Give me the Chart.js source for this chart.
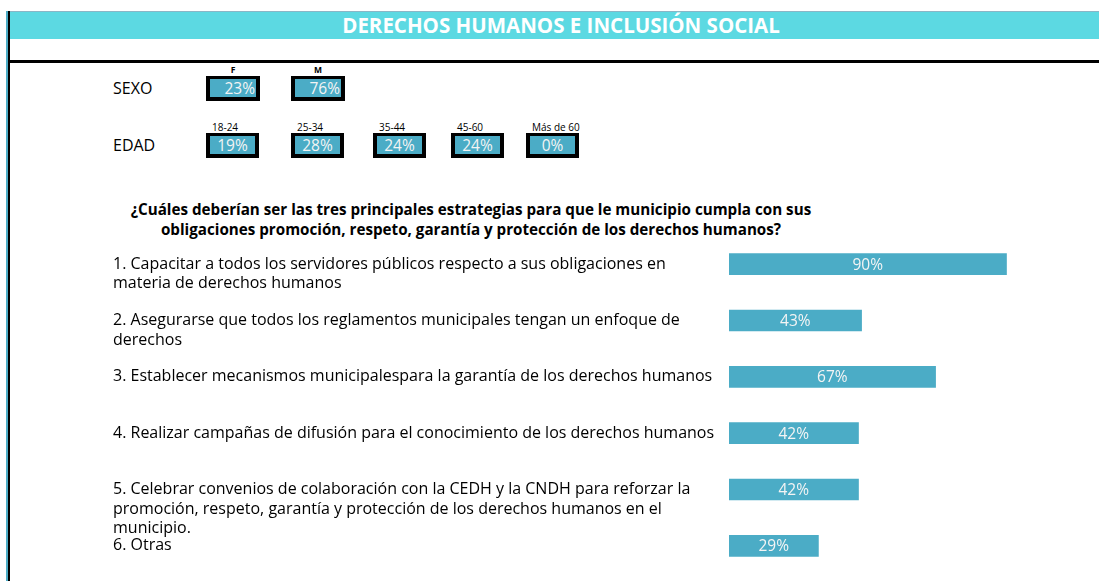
<!DOCTYPE html>
<html>
<head>
<meta charset="utf-8">
<script src="https://cdn.jsdelivr.net/npm/chart.js@4.4.1/dist/chart.umd.min.js"></script>
<style>
  html, body { margin: 0; padding: 0; background: #fff; }
  body { width: 1099px; height: 581px; position: relative; overflow: hidden;
         font-family: "Open Sans", sans-serif; color: #000; }
  .abs { position: absolute; }
  #bl1 { left: 6px; top: 11px; width: 2px; height: 570px; background: #4bacc6; }
  #bl2 { left: 8px; top: 11px; width: 2px; height: 570px; background: #000; }
  #hdrline { left: 10px; top: 11px; width: 1089px; height: 1px; background: #8ab6c6; }
  #hdr { left: 10px; top: 12px; width: 1089px; height: 27px; background: #5cd9e2; }
  #title { left: 0px; top: 12px; width: 1122px; height: 27px; line-height: 27px; text-align: center;
           color: #fff; font-weight: bold; font-size: 20.5px; }
  #rule { left: 10px; top: 60px; width: 1089px; height: 3px; background: #000; }
  .rowlbl { font-size: 16px; line-height: 20px; }
  .box { position: absolute; box-sizing: border-box; border: 4px solid #000; border-top-width: 3px;
         border-bottom-width: 4px; background: #4bacc6; }
  .box span { position: absolute; top: 0; bottom: 0; left: 0; right: 0; color: #f4f4f4;
              font-size: 15.5px; line-height: 18px; }
  .boxhead { position: absolute; font-size: 10px; line-height: 12px; }
  #question { left: 0px; top: 199px; width: 942px; text-align: center; font-weight: bold;
              font-size: 15.2px; line-height: 20px; }
  #chartwrap { left: 113px; top: 236px; width: 986px; height: 338px; }
</style>
</head>
<body>
<div class="abs" id="bl1"></div>
<div class="abs" id="bl2"></div>
<div class="abs" id="hdr"></div>
<div class="abs" id="hdrline"></div>
<div class="abs" id="title">DERECHOS HUMANOS E INCLUSIÓN SOCIAL</div>
<div class="abs" id="rule"></div>
<div class="abs rowlbl" style="left:113px;top:78px;">SEXO</div>
<div class="abs rowlbl" style="left:113px;top:135px;">EDAD</div>
<div id="boxes"></div>
<div class="abs" id="question">¿Cuáles deberían ser las tres principales estrategias para que le municipio cumpla con sus<br>obligaciones promoción, respeto, garantía y protección de los derechos humanos?</div>
<div class="abs" id="chartwrap"><canvas id="c" width="986" height="338"></canvas></div>
<script>
// ---- data ----
const sexLabels = ['F', 'M'];
const sexValues = [23, 76];
const ageLabels = ['18-24', '25-34', '35-44', '45-60', 'Más de 60'];
const ageValues = [19, 28, 24, 24, 0];
const strategyLabels = [
  ['1. Capacitar a todos los servidores públicos respecto a sus obligaciones en', 'materia de derechos humanos'],
  ['2. Asegurarse que todos los reglamentos municipales tengan un enfoque de', 'derechos'],
  ['3. Establecer mecanismos municipalespara la garantía de los derechos humanos'],
  ['4. Realizar campañas de difusión para el conocimiento de los derechos humanos'],
  ['5. Celebrar convenios de colaboración con la CEDH y la CNDH para reforzar la', 'promoción, respeto, garantía y protección de los derechos humanos en el', 'municipio.'],
  ['6. Otras']
];
const strategyValues = [90, 43, 67, 42, 42, 29];

// ---- layout (not data) ----
const sexBoxLeft = [206, 291];
const ageBoxLeft = [206, 291, 373, 451, 526];
const FONT = '"Open Sans", sans-serif';

const boxes = document.getElementById('boxes');
function addBox(left, top, w, h, head, val, headStyle, align) {
  const hd = document.createElement('div');
  hd.className = 'boxhead';
  hd.textContent = head;
  Object.assign(hd.style, headStyle);
  boxes.appendChild(hd);
  const b = document.createElement('div');
  b.className = 'box';
  Object.assign(b.style, { left: left + 'px', top: top + 'px', width: w + 'px', height: h + 'px' });
  const s = document.createElement('span');
  s.textContent = val + '%';
  s.style.textAlign = align;
  if (align === 'right') s.style.paddingRight = '1px';
  b.appendChild(s);
  boxes.appendChild(b);
}
sexLabels.forEach((l, i) => {
  addBox(sexBoxLeft[i], 76, 54, 25, l, sexValues[i],
    { left: sexBoxLeft[i] + 'px', width: '54px', textAlign: 'center', top: '64px',
      fontWeight: 'bold', fontSize: '8.5px' }, 'right');
});
ageLabels.forEach((l, i) => {
  addBox(ageBoxLeft[i], 133, 53, 25, l, ageValues[i],
    { left: (ageBoxLeft[i] + 6) + 'px', top: '121px' }, 'center');
});

// ---- chart ----
const barLabelPlugin = {
  id: 'barLabels',
  afterDatasetsDraw(chart) {
    const ctx = chart.ctx;
    const meta = chart.getDatasetMeta(0);
    ctx.save();
    ctx.fillStyle = '#f4f4f4';
    ctx.font = '15.5px ' + FONT;
    ctx.textAlign = 'center';
    ctx.textBaseline = 'middle';
    meta.data.forEach((bar, i) => {
      const cx = (bar.x + bar.base) / 2;
      ctx.fillText(strategyValues[i] + '%', cx, bar.y + 1);
    });
    ctx.restore();
  }
};

new Chart(document.getElementById('c'), {
  type: 'bar',
  data: {
    labels: strategyLabels,
    datasets: [{
      data: strategyValues,
      backgroundColor: '#4bacc6',
      borderWidth: 0,
      barThickness: 21
    }]
  },
  options: {
    indexAxis: 'y',
    responsive: false,
    animation: false,
    layout: { padding: 0 },
    plugins: { legend: { display: false }, tooltip: { enabled: false }, title: { display: false } },
    scales: {
      x: { display: false, min: 0, max: 120, grid: { display: false } },
      y: {
        grid: { display: false },
        border: { display: false },
        afterFit(scale) {
          scale.width = 616;
          scale.paddingTop = 0;
          scale.paddingBottom = 0;
        },
        ticks: {
          autoSkip: false,
          crossAlign: 'far',
          color: '#000',
          font: { family: FONT, size: 16, lineHeight: '19.5px' },
          callback(value) {
            const lines = this.getLabelForValue(value);
            const arr = Array.isArray(lines) ? lines : [lines];
            return Array(arr.length - 1).fill('').concat(arr);
          }
        }
      }
    }
  },
  plugins: [barLabelPlugin]
});
</script>
</body>
</html>
